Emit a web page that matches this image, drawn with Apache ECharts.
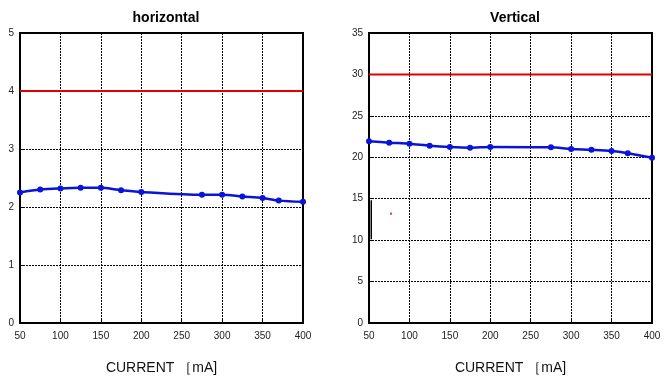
<!DOCTYPE html>
<html><head><meta charset="utf-8">
<script src="https://cdn.jsdelivr.net/npm/echarts@6/dist/echarts.min.js"></script>
<style>html,body{margin:0;padding:0;background:#fff}#c{width:672px;height:376px}</style>
</head><body><div id="c"></div>
<script>
const currents = [50, 75, 100, 125, 150, 175, 200, 275, 300, 325, 350, 370, 400];
const horizontalVals = [2.25, 2.30, 2.32, 2.33, 2.33, 2.29, 2.26, 2.21, 2.21, 2.18, 2.155, 2.11, 2.09];
const verticalVals = [21.93, 21.76, 21.64, 21.4, 21.24, 21.16, 21.24, 21.2, 21.0, 20.9, 20.76, 20.5, 19.95];
const horizontalLimit = 4;
const verticalLimit = 30;
const xTicks = [50, 100, 150, 200, 250, 300, 350, 400];
const titles = ['horizontal', 'Vertical'];
const xName = 'CURRENT ［mA]';
const artifactLine = [[52.8, 10.1], [52.8, 14.8]];
const artifactDot = [[77.2, 13.2]];

const font = 'Liberation Sans, Arial, sans-serif';
function xAxis(gi) {
  return {
    type: 'value', gridIndex: gi, min: 50, max: 400, interval: 50,
    name: xName, nameLocation: 'middle', nameGap: 38,
    nameTextStyle: {fontFamily: font, fontSize: 14, color: '#111'},
    axisLine: {show: false},
    axisTick: {show: true, inside: true, length: 3, lineStyle: {color: '#000'}},
    axisLabel: {fontFamily: font, fontSize: 10, color: '#222', margin: 8},
    splitLine: {show: true, lineStyle: {color: '#000', type: [2, 1], width: 1}}
  };
}
function yAxis(gi, max, interval) {
  return {
    type: 'value', gridIndex: gi, min: 0, max: max, interval: interval,
    axisLine: {show: false},
    axisTick: {show: true, inside: true, length: 3, lineStyle: {color: '#000'}},
    axisLabel: {fontFamily: font, fontSize: 10, color: '#222', margin: 6},
    splitLine: {show: true, lineStyle: {color: '#000', type: [2, 1], width: 1}}
  };
}
const pairs = (ys) => currents.map((x, i) => [x, ys[i]]);
const chart = echarts.init(document.getElementById('c'));
chart.setOption({
  animation: false,
  title: [
    {text: titles[0], left: 161, top: 6, textAlign: 'center', textStyle: {fontFamily: font, fontSize: 14, fontWeight: 'bold', color: '#000'}},
    {text: titles[1], left: 510, top: 6, textAlign: 'center', textStyle: {fontFamily: font, fontSize: 14, fontWeight: 'bold', color: '#000'}}
  ],
  grid: [
    {left: 20, top: 33, width: 283, height: 290, show: true, borderColor: '#000', borderWidth: 2, backgroundColor: 'transparent', containLabel: false, outerBoundsMode: 'none'},
    {left: 369, top: 33, width: 283, height: 290, show: true, borderColor: '#000', borderWidth: 2, backgroundColor: 'transparent', containLabel: false, outerBoundsMode: 'none'}
  ],
  xAxis: [xAxis(0), xAxis(1)],
  yAxis: [yAxis(0, 5, 1), yAxis(1, 35, 5)],
  series: [
    {type: 'line', xAxisIndex: 0, yAxisIndex: 0, data: [[50, horizontalLimit], [400, horizontalLimit]], symbol: 'none', lineStyle: {color: '#e00000', width: 2}},
    {type: 'line', xAxisIndex: 0, yAxisIndex: 0, data: pairs(horizontalVals), smooth: 0.3, symbol: 'circle', symbolSize: 6,
      itemStyle: {color: '#0a14d8'}, lineStyle: {color: '#0a14d8', width: 2.5}},
    {type: 'line', xAxisIndex: 1, yAxisIndex: 1, data: [[50, verticalLimit], [400, verticalLimit]], symbol: 'none', lineStyle: {color: '#e00000', width: 2}},
    {type: 'line', xAxisIndex: 1, yAxisIndex: 1, data: pairs(verticalVals), smooth: 0.3, symbol: 'circle', symbolSize: 6,
      itemStyle: {color: '#0a14d8'}, lineStyle: {color: '#0a14d8', width: 2.5}},
    {type: 'line', xAxisIndex: 1, yAxisIndex: 1, data: artifactLine, symbol: 'none', lineStyle: {color: '#000', width: 1.5}},
    {type: 'scatter', xAxisIndex: 1, yAxisIndex: 1, data: artifactDot, symbol: 'rect', symbolSize: 2, itemStyle: {color: '#e00000'}}
  ]
});
</script></body></html>
